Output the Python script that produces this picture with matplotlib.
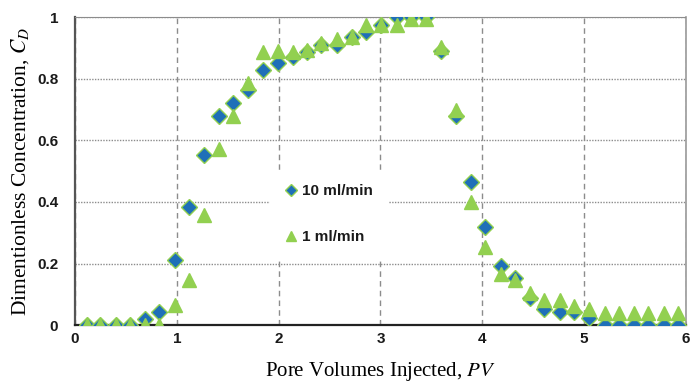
import matplotlib
matplotlib.use("Agg")
import matplotlib.pyplot as plt

plt.rcParams['font.family'] = ['Liberation Sans', 'DejaVu Sans']
plt.rcParams['mathtext.fontset'] = 'stix'

# pore volumes injected (shared by both runs)
pv = [0.12, 0.25, 0.40, 0.54, 0.69, 0.83, 0.98, 1.12, 1.27, 1.41, 1.55, 1.70, 1.85, 1.99,
      2.14, 2.28, 2.42, 2.57, 2.72, 2.86, 3.01, 3.16, 3.30, 3.45, 3.59, 3.74, 3.89, 4.03,
      4.18, 4.32, 4.47, 4.61, 4.76, 4.90, 5.05, 5.20, 5.34, 5.49, 5.63, 5.78, 5.92]

# dimensionless concentration, 10 ml/min
cd_10 = [0, 0, 0, 0, 0.02, 0.043, 0.213, 0.382, 0.552, 0.68, 0.72, 0.763, 0.828, 0.85,
         0.87, 0.887, 0.91, 0.91, 0.934, 0.952, 0.974, 1.0, 1.0, 1.0, 0.89, 0.68, 0.465, 0.32,
         0.193, 0.152, 0.087, 0.054, 0.043, 0.043, 0.022, 0, 0, 0, 0, 0, 0]

# dimensionless concentration, 1 ml/min
cd_1 = [0, 0, 0, 0, 0, 0, 0.065, 0.146, 0.357, 0.571, 0.68, 0.785, 0.887, 0.89,
        0.887, 0.893, 0.917, 0.93, 0.936, 0.974, 0.974, 0.974, 0.995, 0.995, 0.904, 0.698, 0.40, 0.254,
        0.166, 0.146, 0.103, 0.083, 0.083, 0.062, 0.054, 0.038, 0.038, 0.038, 0.038, 0.038, 0.038]

labels = ['10 ml/min', '1 ml/min']
xticks = [0, 1, 2, 3, 4, 5, 6]
yticks = [0, 0.2, 0.4, 0.6, 0.8, 1.0]
ytick_labels = ['0', '0.2', '0.4', '0.6', '0.8', '1']

blue = '#1f6fb8'
green = '#92d050'

fig = plt.figure(figsize=(7, 3.88), dpi=100)
ax = fig.add_axes([0.107, 0.162, 0.873, 0.794])

ax.plot(pv, cd_10, linestyle='none', marker='D', markersize=8.5, color=blue,
        markeredgecolor=green, markeredgewidth=1, label=labels[0], zorder=3)
ax.plot(pv, cd_1, linestyle='none', marker='^', markersize=9.5, color=green,
        markeredgecolor=green, label=labels[1], zorder=4)

ax.set_xlim(0, 6)
ax.set_ylim(0, 1)
ax.set_xticks(xticks)
ax.set_yticks(yticks)
ax.set_yticklabels(ytick_labels)
for lab in ax.get_xticklabels() + ax.get_yticklabels():
    lab.set_fontweight('bold')
    lab.set_color('#1a1a1a')

ax.set_axisbelow(True)
ax.xaxis.grid(True, color='#8c8c8c', linestyle=(0, (4, 3)), linewidth=1)
ax.yaxis.grid(True, color='#8c8c8c', linestyle=(0, (1, 1)), linewidth=1)

ax.spines['left'].set_color('#555555')
ax.spines['left'].set_linewidth(1.6)
ax.spines['bottom'].set_color('#222222')
ax.spines['bottom'].set_linewidth(1.6)
ax.spines['top'].set_color('#8c8c8c')
ax.spines['top'].set_linestyle((0, (1, 1)))
ax.spines['right'].set_color('#999999')
ax.spines['right'].set_linewidth(1.2)

ax.tick_params(axis='x', direction='in', length=3, color='#999999', pad=5, labelsize=11)
ax.tick_params(axis='y', length=0, pad=12, labelsize=11)

ax.set_xlabel('Pore Volumes Injected, $\\mathit{PV}$', family='Liberation Serif', fontsize=15, labelpad=10)
ax.set_ylabel('Dimentionless Concentration, $C_D$', family='Liberation Serif', fontsize=15.5, labelpad=4)

leg = ax.legend(loc='upper left', bbox_to_anchor=(0.319, 0.503), borderaxespad=0,
                frameon=True, facecolor='white', edgecolor='white', framealpha=1,
                fancybox=False, markerscale=0.7, handlelength=1.0, handletextpad=0.2,
                labelspacing=2.1, borderpad=0.9, fontsize=11)
for t in leg.get_texts():
    t.set_fontweight('bold')
    t.set_color('#1a1a1a')
leg.set_zorder(2)

fig.savefig('out.png', dpi=100)
